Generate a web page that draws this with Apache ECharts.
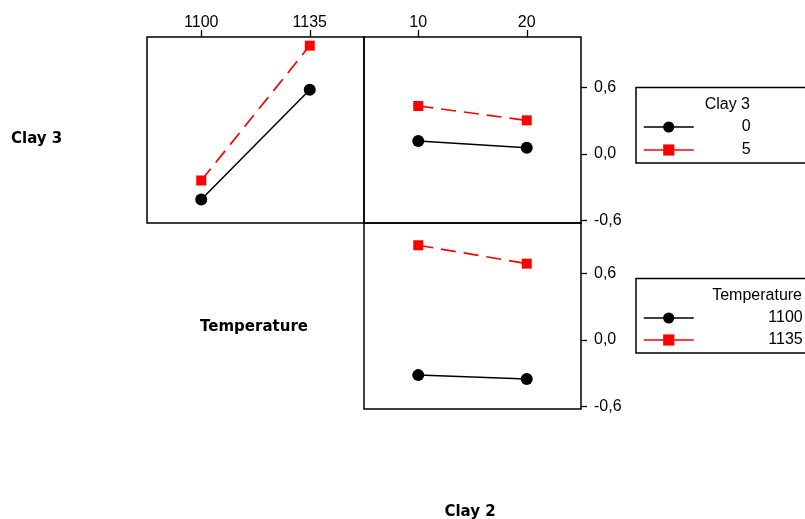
<!DOCTYPE html>
<html>
<head>
<meta charset="utf-8">
<script src="https://cdn.jsdelivr.net/npm/echarts@6/dist/echarts.min.js"></script>
<style>
  html, body { margin: 0; padding: 0; background: #fff; }
  #chart { width: 805px; height: 519px; }
</style>
</head>
<body>
<div id="chart"></div>
<script>
// 数据
const tempLevels = ['1100', '1135'];
const clay2Levels = ['10', '20'];
const clay3Names = ['0', '5'];
const tempNames = ['1100', '1135'];
// Clay 3 x Temperature（左上）
const clay3ByTemp0 = [-0.413, 0.579];
const clay3ByTemp5 = [-0.241, 0.977];
// Clay 3 x Clay 2（右上）
const clay3ByClay2_0 = [0.115, 0.054];
const clay3ByClay2_5 = [0.432, 0.302];
// Temperature x Clay 2（右下）
const tempByClay2_1100 = [-0.319, -0.353];
const tempByClay2_1135 = [0.854, 0.688];
const yTicks = [-0.6, 0, 0.6];

const font = 'Liberation Sans';
const boldFont = 'bold 15px "DejaVu Sans"';
const fmt = v => v.toFixed(1).replace('.', ',');

const myChart = echarts.init(document.getElementById('chart'));

function xAxisOf(gridIndex, data, showLabels) {
  return {
    type: 'category',
    gridIndex: gridIndex,
    position: 'top',
    boundaryGap: true,
    data: data,
    axisLine: { show: false, onZero: false },
    axisTick: { show: showLabels, alignWithLabel: true, length: 7, lineStyle: { color: '#000', width: 1.3 } },
    axisLabel: { show: showLabels, margin: 6, color: '#000', fontFamily: font, fontSize: 16 },
    splitLine: { show: false }
  };
}

function yAxisOf(gridIndex, showLabels) {
  return {
    type: 'value',
    gridIndex: gridIndex,
    position: 'right',
    min: -0.625,
    max: 1.055,
    axisLine: { show: false, onZero: false },
    axisTick: { show: showLabels, length: 6, customValues: yTicks, lineStyle: { color: '#000', width: 1.3 } },
    axisLabel: { show: showLabels, margin: 13, customValues: yTicks, formatter: fmt, color: '#000', fontFamily: font, fontSize: 16 },
    splitLine: { show: false }
  };
}

function blackSeries(name, idx, data) {
  return {
    name: name, type: 'line', xAxisIndex: idx, yAxisIndex: idx, data: data,
    symbol: 'circle', symbolSize: 12, color: '#000',
    lineStyle: { color: '#000', width: 1.5, type: 'solid' },
    itemStyle: { color: '#000' }
  };
}

function redSeries(name, idx, data) {
  return {
    name: name, type: 'line', xAxisIndex: idx, yAxisIndex: idx, data: data,
    symbol: 'rect', symbolSize: 10, color: '#f00',
    lineStyle: { color: '#f00', width: 1.7, type: [15, 8] },
    itemStyle: { color: '#f00' }
  };
}

const gridBox = { show: true, borderColor: '#000', borderWidth: 1.5, backgroundColor: 'transparent' };

const option = {
  backgroundColor: '#fff',
  animation: false,
  grid: [
    Object.assign({ left: 147, top: 37, width: 217, height: 186 }, gridBox),
    Object.assign({ left: 364, top: 37, width: 217, height: 186 }, gridBox),
    Object.assign({ left: 364, top: 223, width: 217, height: 186 }, gridBox)
  ],
  xAxis: [
    xAxisOf(0, tempLevels, true),
    xAxisOf(1, clay2Levels, true),
    xAxisOf(2, clay2Levels, false)
  ],
  yAxis: [
    yAxisOf(0, false),
    yAxisOf(1, true),
    yAxisOf(2, true)
  ],
  legend: [
    {
      data: clay3Names, orient: 'vertical', left: 643, top: 119, padding: 0,
      itemWidth: 50, itemHeight: 14, itemGap: 7,
      lineStyle: { type: 'solid', width: 1.5 },
      formatter: '{a|{name}}',
      textStyle: { color: '#000', fontFamily: font, fontSize: 16, rich: { a: { width: 52, height: 14, lineHeight: 14, align: 'right', fontFamily: font, fontSize: 16 } } },
      selectedMode: false
    },
    {
      data: tempNames, orient: 'vertical', left: 643, top: 310, padding: 0,
      itemWidth: 50, itemHeight: 14, itemGap: 6,
      lineStyle: { type: 'solid', width: 1.5 },
      formatter: '{a|{name}}',
      textStyle: { color: '#000', fontFamily: font, fontSize: 16, rich: { a: { width: 104, height: 14, lineHeight: 14, align: 'right', fontFamily: font, fontSize: 16 } } },
      selectedMode: false
    }
  ],
  graphic: [
    { type: 'rect', shape: { x: 636, y: 87.5, width: 200, height: 75.5 }, style: { fill: 'none', stroke: '#000', lineWidth: 1.5 } },
    { type: 'rect', shape: { x: 636, y: 278.5, width: 200, height: 74.5 }, style: { fill: 'none', stroke: '#000', lineWidth: 1.5 } },
    { type: 'text', x: 750, y: 105, style: { text: 'Clay 3', align: 'right', verticalAlign: 'middle', fill: '#000', font: '16px "Liberation Sans"' } },
    { type: 'text', x: 802, y: 296, style: { text: 'Temperature', align: 'right', verticalAlign: 'middle', fill: '#000', font: '16px "Liberation Sans"' } },
    { type: 'text', x: 11, y: 139, style: { text: 'Clay 3', align: 'left', verticalAlign: 'middle', fill: '#000', font: boldFont } },
    { type: 'text', x: 254, y: 327, style: { text: 'Temperature', align: 'center', verticalAlign: 'middle', fill: '#000', font: boldFont } },
    { type: 'text', x: 470, y: 512, style: { text: 'Clay 2', align: 'center', verticalAlign: 'middle', fill: '#000', font: boldFont } }
  ],
  series: [
    blackSeries('0', 0, clay3ByTemp0),
    redSeries('5', 0, clay3ByTemp5),
    blackSeries('0', 1, clay3ByClay2_0),
    redSeries('5', 1, clay3ByClay2_5),
    blackSeries('1100', 2, tempByClay2_1100),
    redSeries('1135', 2, tempByClay2_1135)
  ]
};

myChart.resize();
myChart.setOption(option);
</script>
</body>
</html>
